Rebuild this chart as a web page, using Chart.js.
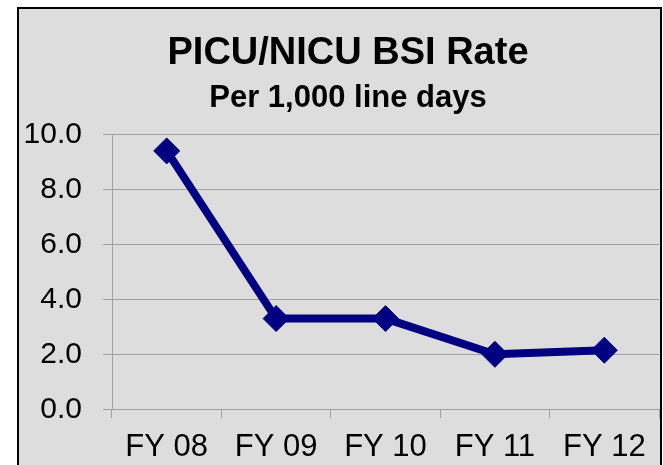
<!DOCTYPE html>
<html>
<head>
<meta charset="utf-8">
<script src="https://cdn.jsdelivr.net/npm/chart.js@4/dist/chart.umd.min.js"></script>
<style>
  html, body { margin: 0; padding: 0; background: #fff; }
  #wrap { width: 663px; height: 465px; }
</style>
</head>
<body>
<div id="wrap"><canvas id="bsiChart" width="663" height="465"></canvas></div>
<script>
// Chart data
const categories = ["FY 08", "FY 09", "FY 10", "FY 11", "FY 12"];
const bsiRate = [9.4, 3.3, 3.3, 2.0, 2.15];
const yTicks = [0, 2, 4, 6, 8, 10];

const FONT = "'Liberation Sans', Arial, sans-serif";

// Gray panel with black frame behind the chart
const framePlugin = {
    id: 'frame',
    beforeDraw(chart) {
        const ctx = chart.ctx;
        ctx.save();
        ctx.fillStyle = '#ffffff';
        ctx.fillRect(0, 0, chart.width, chart.height);
        ctx.fillStyle = '#dddddd';
        ctx.fillRect(18, 8, 643, 470);
        ctx.strokeStyle = '#000000';
        ctx.lineWidth = 2;
        ctx.strokeRect(18, 8, 643, 470);
        ctx.restore();
    }
};

const ctx = document.getElementById('bsiChart').getContext('2d');

new Chart(ctx, {
    type: 'line',
    data: {
        labels: categories,
        datasets: [{
            label: 'BSI Rate',
            data: bsiRate,
            borderColor: '#000080',
            backgroundColor: '#000080',
            borderWidth: 8,
            pointStyle: 'rectRot',
            pointRadius: 13,
            pointBorderWidth: 1,
            pointBackgroundColor: '#000080',
            pointBorderColor: '#000080',
            tension: 0,
        }]
    },
    options: {
        responsive: false,
        animation: false,
        layout: {
            autoPadding: false,
            // negative right padding shifts the titles' centre right;
            // the x axis padding below pulls the plot back to its place
            padding: { left: 17, right: -16, top: 0, bottom: 0 }
        },
        plugins: {
            legend: { display: false },
            tooltip: { enabled: false },
            title: {
                display: true,
                text: 'PICU/NICU BSI Rate',
                color: '#000',
                font: { family: FONT, size: 38, weight: 'bold', lineHeight: 1.2 },
                padding: { top: 31, bottom: 0 }
            },
            subtitle: {
                display: true,
                text: 'Per 1,000 line days',
                color: '#000',
                font: { family: FONT, size: 31, weight: 'bold', lineHeight: 1.2 },
                padding: { top: 3, bottom: 17.6 }
            }
        },
        scales: {
            x: {
                type: 'category',
                offset: true,
                afterFit(scale) {
                    scale.height = 55.7;
                    scale.paddingLeft = 0;
                    scale.paddingRight = 4;
                },
                grid: {
                    offset: true,
                    drawOnChartArea: false,
                    color: '#a0a0a0',
                    tickLength: 9
                },
                border: { color: '#a0a0a0' },
                ticks: {
                    color: '#000',
                    padding: 11,
                    font: { family: FONT, size: 31 }
                }
            },
            y: {
                min: 0,
                max: 10,
                afterFit(scale) { scale.width = 95; },
                afterBuildTicks(scale) {
                    scale.ticks = yTicks.map(v => ({ value: v }));
                },
                grid: {
                    color: '#a0a0a0',
                    tickLength: 9
                },
                border: { color: '#a0a0a0' },
                ticks: {
                    color: '#000',
                    padding: 21,
                    font: { family: FONT, size: 30 },
                    callback: v => Number(v).toFixed(1)
                }
            }
        }
    },
    plugins: [framePlugin]
});
</script>
</body>
</html>
